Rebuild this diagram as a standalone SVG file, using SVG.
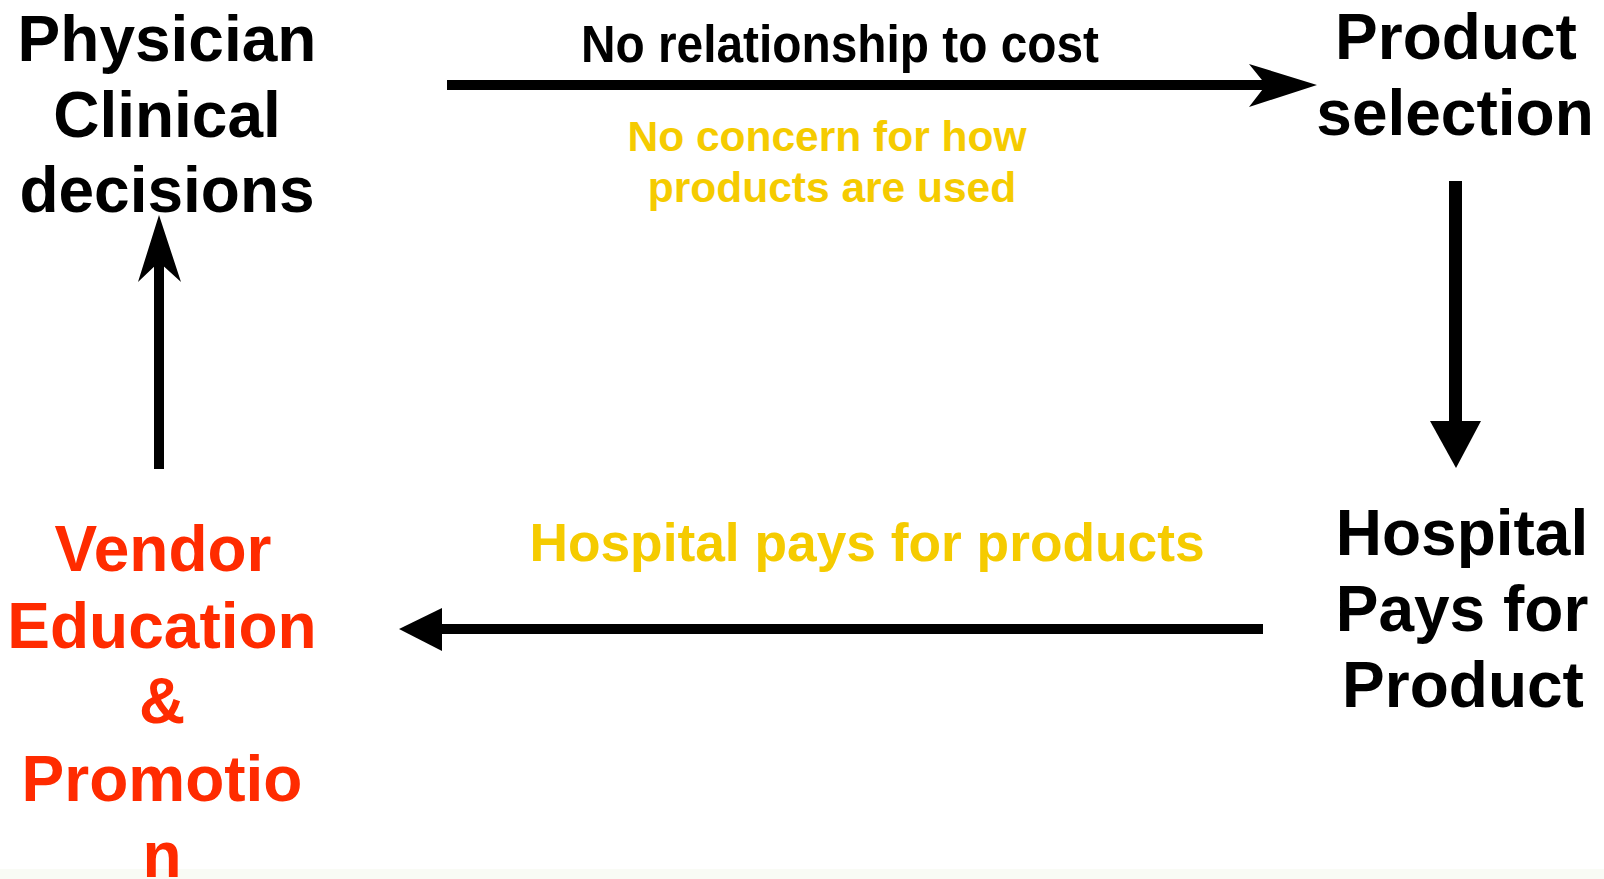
<svg xmlns="http://www.w3.org/2000/svg" width="1604" height="879" viewBox="0 0 1604 879">
  <style>
    text { font-family: "Liberation Sans", Arial, Helvetica, sans-serif; font-weight: bold; text-anchor: middle; }
    .node { font-size: 64px; fill: #000000; }
    .red { fill: #FF2B00; }
    .yel { fill: #F5CB00; }
  </style>
  <rect x="0" y="0" width="1604" height="879" fill="#FFFFFF"/>
  <rect x="0" y="869" width="1604" height="10" fill="#F9FBF5"/>

  <g id="node-physician">
    <text class="node" x="167" y="61">Physician</text>
    <text class="node" x="167" y="137">Clinical</text>
    <text class="node" x="167" y="212">decisions</text>
  </g>
  <g id="node-product-selection">
    <text class="node" x="1456" y="59">Product</text>
    <text class="node" x="1455" y="135">selection</text>
  </g>
  <g id="node-hospital-pays">
    <text class="node" x="1462" y="555">Hospital</text>
    <text class="node" x="1462" y="631">Pays for</text>
    <text class="node" x="1463" y="707">Product</text>
  </g>
  <g id="node-vendor">
    <text class="node red" x="163" y="571">Vendor</text>
    <text class="node red" x="162" y="648">Education</text>
    <text class="node red" x="162" y="723">&amp;</text>
    <text class="node red" x="162" y="801">Promotio</text>
    <text class="node red" x="162" y="877">n</text>
  </g>

  <g id="connectors" fill="#000000" stroke="none">
    <!-- top: Physician -> Product selection -->
    <rect x="447" y="80" width="822" height="10"/>
    <path d="M1317,85 L1249,64 L1266,85 L1249,107 Z"/>
    <!-- right: Product selection -> Hospital pays -->
    <rect x="1449" y="181" width="13" height="242"/>
    <path d="M1430,421 L1481,421 L1456,468 Z"/>
    <!-- bottom: Hospital pays -> Vendor -->
    <rect x="440" y="624" width="823" height="10"/>
    <path d="M399,629 L442,608 L442,651 Z"/>
    <!-- left: Vendor -> Physician -->
    <rect x="154" y="258" width="10" height="211"/>
    <path d="M159,215 L181,282 L159,262 L138,282 Z"/>
  </g>

  <g id="labels">
    <text x="840" y="62" font-size="51" textLength="518" lengthAdjust="spacingAndGlyphs">No relationship to cost</text>
    <text class="yel" x="827" y="151" font-size="42.5">No concern for how</text>
    <text class="yel" x="832" y="202" font-size="42.5">products are used</text>
    <text class="yel" x="867" y="561" font-size="53.3">Hospital pays for products</text>
  </g>
</svg>
